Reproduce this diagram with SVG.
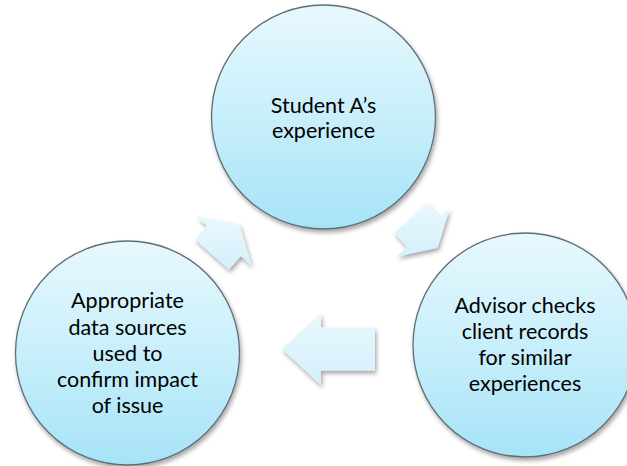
<svg xmlns="http://www.w3.org/2000/svg" width="627" height="466" viewBox="0 0 627 466">
  <defs>
    <linearGradient id="circFill" x1="0" y1="0" x2="0" y2="1">
      <stop offset="0" stop-color="#e8f8fd"/>
      <stop offset="0.5" stop-color="#c8effb"/>
      <stop offset="1" stop-color="#a6e3f7"/>
    </linearGradient>
    <linearGradient id="arrowFill" x1="0" y1="0" x2="0" y2="1">
      <stop offset="0" stop-color="#e9f8fd"/>
      <stop offset="1" stop-color="#d3f0fb"/>
    </linearGradient>
    <filter id="shadow" x="-20%" y="-20%" width="140%" height="140%">
      <feDropShadow dx="1.5" dy="3" stdDeviation="2.2" flood-color="#000" flood-opacity="0.35"/>
    </filter>
  </defs>
  <style>
    .node { fill: url(#circFill); stroke: #5f6e74; stroke-width: 1.3; filter: url(#shadow); }
    .arrow { fill: url(#arrowFill); stroke: none; filter: url(#shadow); }
    .label { font-family: Lato, "Liberation Sans", sans-serif; font-size: 21.5px; fill: #000; text-anchor: middle; }
  </style>
  <rect width="627" height="466" fill="#ffffff"/>

  <g id="connectors">
    <polygon class="arrow" points="239.3,223.9 251.6,265.7 240.8,256 228.8,269.4 195.2,239.4 207.2,226 196.4,216.3"/>
    <polygon class="arrow" points="437.5,247.7 396.8,256.6 407.1,247.1 394.3,233.1 426.6,203.3 439.5,217.3 449.8,207.8"/>
    <polygon class="arrow" points="282,349 321,385 321,370.5 375,370.5 375,327.5 321,327.5 321,313"/>
  </g>

  <g id="node-student">
    <circle class="node" cx="323.5" cy="117" r="112"/>
    <text class="label" x="323.5" y="112.5">Student A’s</text>
    <text class="label" x="323.5" y="137.5">experience</text>
  </g>

  <g id="node-advisor">
    <circle class="node" cx="525" cy="345" r="112"/>
    <text class="label" x="525" y="313">Advisor checks</text>
    <text class="label" x="525" y="339">client records</text>
    <text class="label" x="525" y="365">for similar</text>
    <text class="label" x="525" y="391">experiences</text>
  </g>

  <g id="node-data">
    <circle class="node" cx="127.5" cy="353" r="112"/>
    <text class="label" x="127.5" y="308">Appropriate</text>
    <text class="label" x="127.5" y="334.5">data sources</text>
    <text class="label" x="127.5" y="360.5">used to</text>
    <text class="label" x="127.5" y="387">confirm impact</text>
    <text class="label" x="127.5" y="413">of issue</text>
  </g>
</svg>
